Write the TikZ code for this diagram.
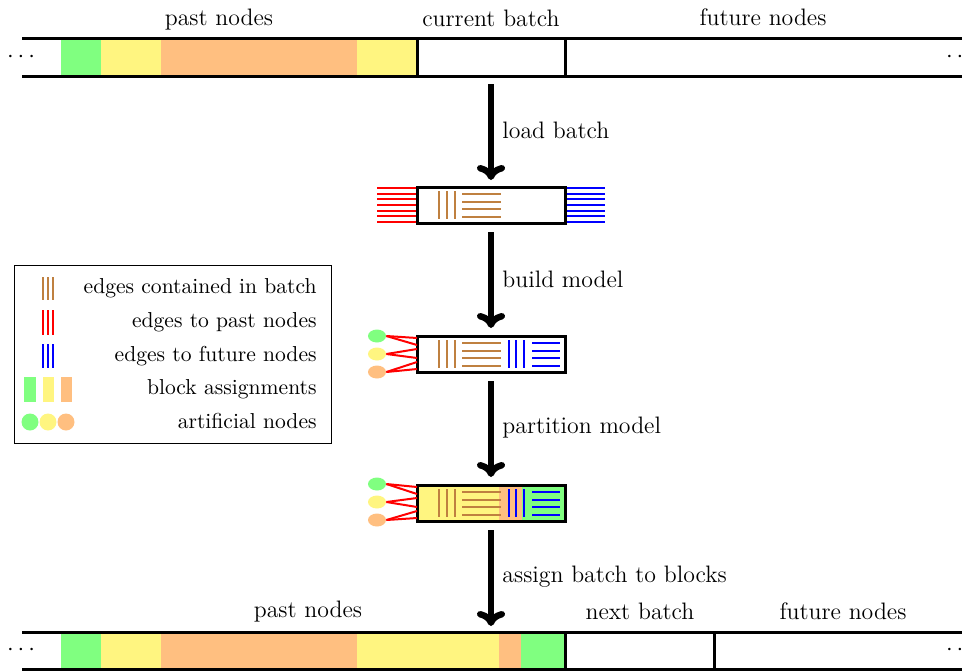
\documentclass[tikz,border=0pt]{standalone}
\usetikzlibrary{calc,shapes.geometric,arrows.meta}

\definecolor{blkgreen}{RGB}{128,255,128}
\definecolor{blkyellow}{RGB}{255,245,128}
\definecolor{blkorange}{RGB}{255,191,128}

% internal edges of a batch (brown), optionally with the edges to future nodes (blue)
\newcommand\internaledges[2]{%
  \begin{scope}[shift={(417,#1)}]
    \foreach \dx in {22,30,38} \draw[inedge] (\dx,4) -- (\dx,32);
    \foreach \dy in {7,14.5,22,29.5} \draw[inedge] (45,\dy) -- (84,\dy);
    \ifnum#2=1
      \foreach \dx in {92,99,107} \draw[futedge] (\dx,4) -- (\dx,32);
      \foreach \dy in {7,14.5,22,29.5} \draw[futedge] (115,\dy) -- (143,\dy);
    \fi
  \end{scope}}

% artificial nodes on the left of a model box, wired to its left side
\newcommand\artificialnodes[2]{%
  \node[art, fill=blkgreen]  (#1g) at (377,#2) {};
  \node[art, fill=blkyellow] (#1y) at (377,#2+18) {};
  \node[art, fill=blkorange] (#1o) at (377,#2+36) {};
  \draw[pastedge] (#1g.east) -- ($(#1.north west)+(0,2)$);
  \draw[pastedge] (#1g.east) -- ($(#1.north west)+(0,9)$);
  \draw[pastedge] (#1y.east) -- ($(#1.north west)+(0,13)$);
  \draw[pastedge] (#1y.east) -- ($(#1.north west)+(0,22)$);
  \draw[pastedge] (#1o.east) -- ($(#1.north west)+(0,26)$);
  \draw[pastedge] (#1o.east) -- ($(#1.north west)+(0,33)$);}

\begin{document}
\begin{tikzpicture}[x=0.5pt,y=-0.5pt,
  font=\fontsize{11.9}{14}\selectfont,
  strip/.style={line width=1.5pt},
  batchbox/.style={draw, line width=1.5pt, minimum width=74pt, minimum height=18pt,
    inner sep=0pt, outer sep=0pt, anchor=north west},
  flow/.style={-{Computer Modern Rightarrow[length=7.5pt,width=14pt]}, line width=3.2pt},
  inedge/.style={brown, line width=1pt},
  pastedge/.style={red, line width=1pt},
  futedge/.style={blue, line width=1pt},
  art/.style={ellipse, minimum width=9pt, minimum height=6.5pt, inner sep=0pt},
  lbl/.style={anchor=base west, inner sep=0pt},
  head/.style={anchor=base, inner sep=0pt},
  legtext/.style={anchor=base east, inner sep=0pt, font=\fontsize{10.8}{13}\selectfont},
]
\useasboundingbox (0,0) rectangle (968,670);

% ---------- upper strip: past nodes | current batch | future nodes ----------
\fill[blkgreen]  (61,38)  rectangle (101,76);
\fill[blkyellow] (101,38) rectangle (161,76);
\fill[blkorange] (161,38) rectangle (357,76);
\fill[blkyellow] (357,38) rectangle (417,76);
\draw[strip] (22,38) -- (962,38);
\draw[strip] (22,76) -- (962,76);
\draw[strip] (417,38) -- (417,76);
\draw[strip] (565,38) -- (565,76);
\node[head] (tpast) at (219,25) {past nodes};
\node[head] (tcur) at (491,26) {current batch};
\node[head] (tfut) at (763,25) {future nodes};
\node[head] (tldots) at (21,62) {$\cdots$};
\node[head] (trdots) at (960,62) {$\cdots$};
\coordinate (curbatch) at (491,76);

% ---------- loaded batch ----------
\foreach \i in {0,...,6} {
  \draw[pastedge] (377,188+\i*5.67) -- (417,188+\i*5.67);
  \draw[futedge]  (565,188+\i*5.67) -- (605,188+\i*5.67);
}
\node[batchbox] (b1) at (417,187) {};
\internaledges{187}{0}

% ---------- model ----------
\node[batchbox] (b2) at (417,336) {};
\internaledges{336}{1}
\artificialnodes{b2}{336}

% ---------- partitioned model ----------
\fill[blkyellow] (417,485) rectangle (499,521);
\fill[blkorange] (499,485) rectangle (522,521);
\fill[blkgreen]  (522,485) rectangle (565,521);
\node[batchbox] (b3) at (417,485) {};
\internaledges{485}{1}
\artificialnodes{b3}{484}

% ---------- lower strip: past nodes | next batch | future nodes ----------
\fill[blkgreen]  (61,632)  rectangle (101,669);
\fill[blkyellow] (101,632) rectangle (161,669);
\fill[blkorange] (161,632) rectangle (357,669);
\fill[blkyellow] (357,632) rectangle (499,669);
\fill[blkorange] (499,632) rectangle (521,669);
\fill[blkgreen]  (521,632) rectangle (565,669);
\draw[strip] (22,632) -- (962,632);
\draw[strip] (22,669) -- (962,669);
\draw[strip] (565,632) -- (565,669);
\draw[strip] (714,632) -- (714,669);
\node[head] (bpast) at (308,617) {past nodes};
\node[head] (bnext) at (640,619) {next batch};
\node[head] (bfut) at (843,619) {future nodes};
\node[head] (bldots) at (21,655) {$\cdots$};
\node[head] (brdots) at (960,655) {$\cdots$};
\coordinate (assigned) at (491,632);

% ---------- processing steps ----------
\draw[flow, shorten <=4pt, shorten >=3.5pt] (curbatch) -- (b1.north);
\draw[flow, shorten <=4.5pt, shorten >=4pt] (b1.south) -- (b2.north);
\draw[flow, shorten <=4.5pt, shorten >=4pt] (b2.south) -- (b3.north);
\draw[flow, shorten <=4.5pt, shorten >=3pt] (b3.south) -- (assigned);
\node[lbl] (s1) at (502,138) {load batch};
\node[lbl] (s2) at (502,287) {build model};
\node[lbl] (s3) at (502,433) {partition model};
\node[lbl] (s4) at (502,582) {assign batch to blocks};

% ---------- legend ----------
\draw[line width=0.5pt] (14,265) rectangle (331,443);
\foreach \x in {43,48,53} {
  \draw[inedge]   (\x,277) -- (\x,300);
  \draw[pastedge] (\x,310) -- (\x,335);
  \draw[futedge]  (\x,344) -- (\x,368);
}
\fill[blkgreen]  (24,377) rectangle (36,402);
\fill[blkyellow] (43,377) rectangle (54,402);
\fill[blkorange] (61,377) rectangle (72,402);
\fill[blkgreen]  (30,422) circle (4.25pt);
\fill[blkyellow] (48,422) circle (4.25pt);
\fill[blkorange] (66,422) circle (4.25pt);
\node[legtext] (l1) at (317,293) {edges contained in batch};
\node[legtext] (l2) at (317,327) {edges to past nodes};
\node[legtext] (l3) at (317,361) {edges to future nodes};
\node[legtext] (l4) at (317,394) {block assignments};
\node[legtext] (l5) at (317,428) {artificial nodes};
\end{tikzpicture}
\end{document}
